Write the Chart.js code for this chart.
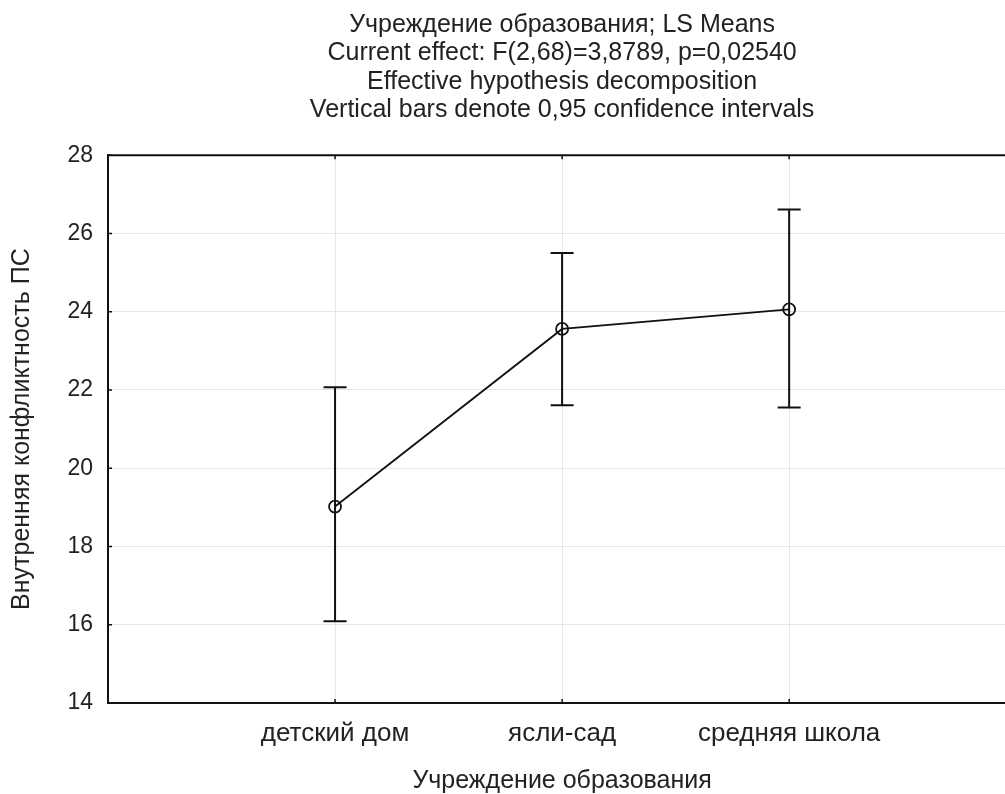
<!DOCTYPE html>
<html>
<head>
<meta charset="utf-8">
<script src="https://cdn.jsdelivr.net/npm/chart.js@4.4.1/dist/chart.umd.min.js"></script>
<style>
  html, body { margin: 0; padding: 0; background: #fff; overflow: hidden; }
  #wrap { width: 1005px; height: 794px; overflow: hidden; position: relative; }
  #c { position: absolute; left: 0; top: 0; }
</style>
</head>
<body>
<div id="wrap"><canvas id="c" width="1024" height="794"></canvas></div>
<script>
// LS means with 0,95 confidence intervals by type of institution
const categories = ['детский дом', 'ясли-сад', 'средняя школа'];
const means   = [19.02, 23.56, 24.06];
const lowerCI = [16.09, 21.61, 21.55];
const upperCI = [22.07, 25.50, 26.61];
const yTicks  = [14, 16, 18, 20, 22, 24, 26, 28];
const titleLines = [
  'Учреждение образования; LS Means',
  'Current effect: F(2,68)=3,8789, p=0,02540',
  'Effective hypothesis decomposition',
  'Vertical bars denote 0,95 confidence intervals'
];
const xTitle = 'Учреждение образования';
const yTitle = 'Внутренняя конфликтность ПС';

const FONT = '"Liberation Sans", Arial, Helvetica, sans-serif';
const INK = '#111';
const TEXT = '#222';
const GRID = '#e6e6e6';

// Confidence-interval whiskers with caps
const errorBars = {
  id: 'errorBars',
  beforeDatasetsDraw(chart) {
    const { ctx, scales: { x, y } } = chart;
    const cap = 11.5;
    ctx.save();
    ctx.strokeStyle = INK;
    ctx.lineWidth = 2;
    categories.forEach((_, i) => {
      const px = x.getPixelForValue(i);
      const top = y.getPixelForValue(upperCI[i]);
      const bot = y.getPixelForValue(lowerCI[i]);
      ctx.beginPath();
      ctx.moveTo(px, top); ctx.lineTo(px, bot);
      ctx.moveTo(px - cap, top); ctx.lineTo(px + cap, top);
      ctx.moveTo(px - cap, bot); ctx.lineTo(px + cap, bot);
      ctx.stroke();
    });
    ctx.restore();
  }
};

// Top frame line and short inward tick marks
const frame = {
  id: 'frame',
  afterDraw(chart) {
    const { ctx, chartArea: a, scales: { x, y } } = chart;
    ctx.save();
    ctx.strokeStyle = INK;
    ctx.lineWidth = 2;
    ctx.beginPath();
    ctx.moveTo(a.left - 1, a.top); ctx.lineTo(a.right, a.top);
    ctx.stroke();
    ctx.lineWidth = 1.5;
    ctx.beginPath();
    x.ticks.forEach(t => {
      const px = x.getPixelForValue(t.value);
      ctx.moveTo(px, a.top); ctx.lineTo(px, a.top + 4);
      ctx.moveTo(px, a.bottom); ctx.lineTo(px, a.bottom - 4);
    });
    y.ticks.forEach(t => {
      const py = y.getPixelForValue(t.value);
      ctx.moveTo(a.left, py); ctx.lineTo(a.left + 4, py);
    });
    ctx.stroke();
    ctx.restore();
  }
};

new Chart(document.getElementById('c'), {
  type: 'line',
  data: {
    datasets: [{
      data: means.map((m, i) => ({ x: i, y: m })),
      borderColor: INK,
      borderWidth: 1.8,
      pointStyle: 'circle',
      pointRadius: 6,
      pointBorderWidth: 1.8,
      pointBorderColor: INK,
      pointBackgroundColor: 'rgba(0,0,0,0)',
      tension: 0,
      fill: false
    }]
  },
  options: {
    responsive: false,
    animation: false,
    layout: { padding: { left: 0, right: 0, top: 0, bottom: 0 } },
    plugins: {
      legend: { display: false },
      tooltip: { enabled: false },
      title: {
        display: true,
        text: titleLines,
        fullSize: false,
        color: TEXT,
        font: { family: FONT, size: 25, weight: 'normal', lineHeight: 1.132 },
        padding: { top: 11, bottom: 31 }
      }
    },
    scales: {
      x: {
        type: 'linear',
        min: -1,
        max: 3,
        afterBuildTicks: s => { s.ticks = categories.map((_, i) => ({ value: i })); },
        afterFit: s => { s.height = 91; },
        ticks: {
          callback: v => categories[v] ?? '',
          autoSkip: false,
          maxRotation: 0,
          padding: 15,
          color: TEXT,
          font: { family: FONT, size: 26 }
        },
        grid: { color: GRID, lineWidth: 1, drawTicks: false },
        border: { color: INK, width: 2 },
        title: {
          display: true,
          text: xTitle,
          color: TEXT,
          font: { family: FONT, size: 25, lineHeight: 1 },
          padding: { top: 0, bottom: 0 }
        }
      },
      y: {
        min: 14,
        max: 28,
        afterBuildTicks: s => { s.ticks = yTicks.map(v => ({ value: v })); },
        afterFit: s => { s.width = 108; },
        ticks: {
          padding: 15,
          color: TEXT,
          font: { family: FONT, size: 23 }
        },
        grid: { color: GRID, lineWidth: 1, drawTicks: false },
        border: { color: INK, width: 2 },
        title: {
          display: true,
          text: yTitle,
          color: TEXT,
          font: { family: FONT, size: 25, lineHeight: 1 },
          padding: { top: 9.5, bottom: 0 }
        }
      }
    }
  },
  plugins: [errorBars, frame]
});
</script>
</body>
</html>
